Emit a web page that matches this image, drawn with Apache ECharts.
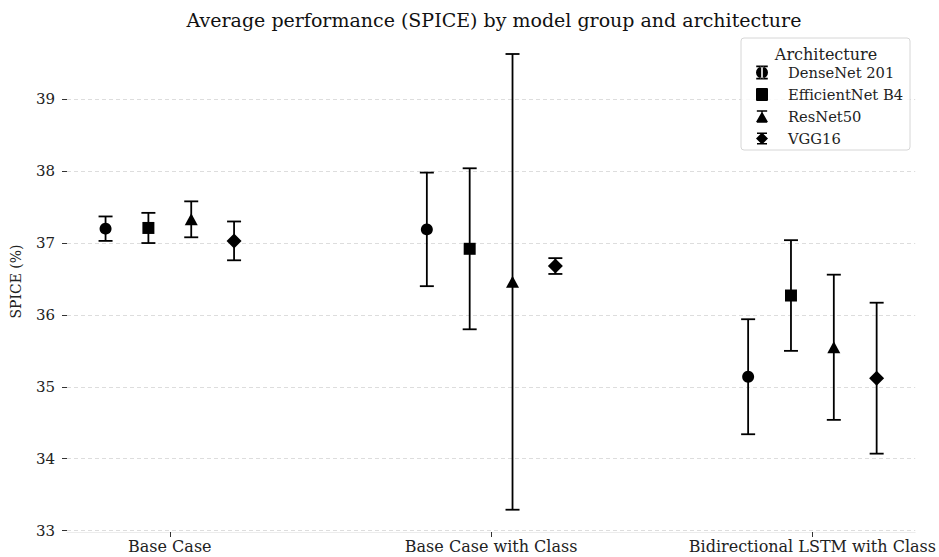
<!DOCTYPE html>
<html>
<head>
<meta charset="utf-8">
<script src="https://cdn.jsdelivr.net/npm/echarts@6/dist/echarts.min.js"></script>
<style>
html,body{margin:0;padding:0;background:#fff;}
#chart{width:939px;height:557px;}
</style>
</head>
<body>
<div id="chart"></div>
<script>
// ---- data ----
const groups = ['Base Case', 'Base Case with Class', 'Bidirectional LSTM with Class'];
const archs = ['DenseNet 201', 'EfficientNet B4', 'ResNet50', 'VGG16'];
const meanDenseNet = [37.20, 37.19, 35.14];
const meanEfficientNet = [37.21, 36.92, 36.27];
const meanResNet = [37.33, 36.46, 35.55];
const meanVGG = [37.03, 36.68, 35.12];
const errDenseNet = [0.17, 0.79, 0.80];
const errEfficientNet = [0.21, 1.12, 0.77];
const errResNet = [0.25, 3.17, 1.01];
const errVGG = [0.27, 0.11, 1.05];
const yTicks = [33, 34, 35, 36, 37, 38, 39];

const means = [meanDenseNet, meanEfficientNet, meanResNet, meanVGG];
const errs = [errDenseNet, errEfficientNet, errResNet, errVGG];

// ---- styling ----
const FONT = 'DejaVu Serif';
const dodge = 0.4 / 3;
const symbols = ['circle', 'rect', 'triangle', 'diamond'];
const symbolSizes = [12, 12, [13, 12], [15, 15]];
const caps = 'M1 0H11V1.4H1Z M5.3 0H6.7V12H5.3Z M1 10.6H11V12H1Z ';
const legendIcons = [
  'path://' + caps + 'M0.8 6A5.2 5.2 0 1 0 11.2 6A5.2 5.2 0 1 0 0.8 6Z',
  'path://' + caps + 'M0.5 0.5H11.5V11.5H0.5Z',
  'path://' + caps + 'M6 1.2L11.8 11.2H0.2Z',
  'path://' + caps + 'M6 0L12 6L6 12L0 6Z'
];

const series = [];
archs.forEach((name, i) => {
  const off = (i - 1.5) * dodge;
  series.push({
    name: name + ' err',
    type: 'custom',
    z: 2,
    silent: true,
    data: groups.map((g, k) => [k + off, means[i][k] - errs[i][k], means[i][k] + errs[i][k]]),
    encode: { x: 0, y: [1, 2] },
    renderItem: function (params, api) {
      const x = api.value(0);
      const lo = api.coord([x, api.value(1)]);
      const hi = api.coord([x, api.value(2)]);
      const cap = 7;
      const st = { stroke: '#000', lineWidth: 1.8 };
      return {
        type: 'group',
        children: [
          { type: 'line', shape: { x1: hi[0], y1: hi[1], x2: lo[0], y2: lo[1] }, style: st },
          { type: 'line', shape: { x1: hi[0] - cap, y1: hi[1], x2: hi[0] + cap, y2: hi[1] }, style: st },
          { type: 'line', shape: { x1: lo[0] - cap, y1: lo[1], x2: lo[0] + cap, y2: lo[1] }, style: st }
        ]
      };
    }
  });
  series.push({
    name: name,
    type: 'scatter',
    z: 5,
    symbol: symbols[i],
    symbolSize: symbolSizes[i],
    itemStyle: { color: '#000', opacity: 1 },
    data: groups.map((g, k) => [k + off, means[i][k]])
  });
});

const chart = echarts.init(document.getElementById('chart'), null, { renderer: 'svg' });
chart.setOption({
  animation: false,
  backgroundColor: '#fff',
  textStyle: { fontFamily: FONT },
  title: [
    {
      text: 'Average performance (SPICE) by model group and architecture',
      left: 489, top: 5, textAlign: 'center',
      textStyle: { fontFamily: FONT, fontSize: 19, fontWeight: 'normal', color: '#111' }
    },
    {
      text: 'Architecture',
      left: 821, top: 41, textAlign: 'center', z: 6,
      textStyle: { fontFamily: FONT, fontSize: 16, fontWeight: 'normal', color: '#222' }
    }
  ],
  graphic: [
    {
      type: 'rect', z: 3, silent: true,
      shape: { x: 741, y: 38, width: 169, height: 112, r: 3 },
      style: { fill: 'rgba(255,255,255,0.85)', stroke: '#d6d6d6', lineWidth: 1 }
    }
  ],
  legend: {
    orient: 'vertical',
    left: 756, top: 65,
    padding: 0,
    itemWidth: 12, itemHeight: 14,
    itemGap: 7,
    z: 6,
    data: archs.map((a, i) => ({ name: a, icon: legendIcons[i], itemStyle: { color: '#000', opacity: 1 } })),
    textStyle: { fontFamily: FONT, fontSize: 14.7, color: '#222', padding: [0, 0, 0, 15] },
    selectedMode: false
  },
  grid: { left: 67, right: 21, top: 31, bottom: 25, containLabel: false },
  xAxis: {
    type: 'value',
    min: -0.32, max: 2.32,
    axisLine: { show: true, onZero: false, lineStyle: { color: '#ececec', width: 1 } },
    axisTick: { show: true, length: 5, customValues: [0, 1, 2], lineStyle: { color: '#333', width: 1 } },
    axisLabel: {
      customValues: [0, 1, 2],
      margin: 6,
      fontFamily: FONT, fontSize: 16, color: '#222',
      formatter: v => groups[Math.round(v)] || ''
    },
    splitLine: { show: false }
  },
  yAxis: {
    type: 'value',
    min: 32.98, max: 39.95,
    name: 'SPICE (%)',
    nameLocation: 'middle',
    nameGap: 44,
    nameTextStyle: { fontFamily: FONT, fontSize: 14, color: '#222' },
    axisLine: { show: false, onZero: false },
    axisTick: { show: true, length: 5, customValues: yTicks, lineStyle: { color: '#333', width: 1 } },
    axisLabel: { customValues: yTicks, margin: 12, fontFamily: FONT, fontSize: 15, color: '#222' },
    splitLine: { show: true, lineStyle: { color: '#d4d4d4', type: [4, 3], width: 0.8 } }
  },
  series: series
});
</script>
</body>
</html>
